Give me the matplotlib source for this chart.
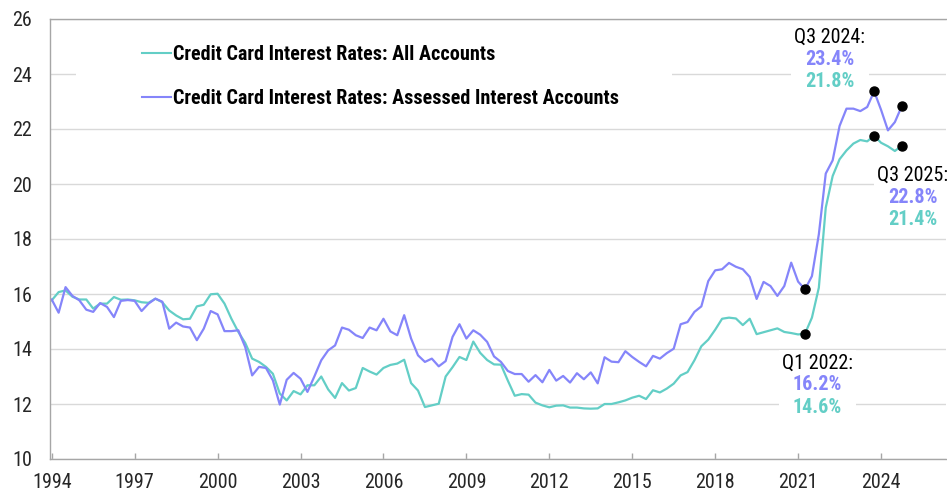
import matplotlib
matplotlib.use('Agg')
import matplotlib.pyplot as plt
import numpy as np
import pandas as pd
from matplotlib import font_manager
from matplotlib.patches import Rectangle
from matplotlib.offsetbox import AnnotationBbox, TextArea, VPacker

available = {f.name for f in font_manager.fontManager.ttflist}
FS = 11.5
chosen = 'Liberation Sans'
for fam, size in [('Liberation Sans Narrow', 13.5), ('Arial Narrow', 13.5),
                  ('Roboto Condensed', 14.5), ('DejaVu Sans Condensed', 12.0)]:
    if fam in available:
        chosen, FS = fam, size
        break
plt.rcParams['font.family'] = [chosen, 'DejaVu Sans']

# ---------------- data (quarterly, Q4 1994 .. Q3 2025) ----------------
quarters = pd.period_range('1994Q4', '2025Q3', freq='Q')

all_accounts = [
    15.77, 16.07, 16.13, 15.90, 15.80, 15.80, 15.47, 15.65, 15.65, 15.89,
    15.79, 15.80, 15.77, 15.70, 15.68, 15.83, 15.70, 15.40, 15.22, 15.08,
    15.10, 15.55, 15.61, 15.99, 16.01, 15.65, 15.10, 14.62, 14.22, 13.65,
    13.53, 13.35, 13.10, 12.38, 12.13, 12.47, 12.35, 12.68, 12.68, 13.00,
    12.53, 12.22, 12.76, 12.49, 12.58, 13.31, 13.18, 13.07, 13.31, 13.42,
    13.47, 13.61, 12.76, 12.49, 11.89, 11.95, 12.01, 13.00, 13.34, 13.71,
    13.60, 14.27, 13.86, 13.60, 13.44, 13.43, 12.85, 12.30, 12.36, 12.34,
    12.05, 11.95, 11.88, 11.94, 11.95, 11.87, 11.87, 11.84, 11.83, 11.84,
    12.00, 12.00, 12.06, 12.13, 12.23, 12.30, 12.18, 12.50, 12.42, 12.56,
    12.74, 13.04, 13.16, 13.59, 14.10, 14.34, 14.70, 15.10, 15.14, 15.11,
    14.87, 15.10, 14.54, 14.61, 14.68, 14.75, 14.62, 14.58, 14.53, 14.56,
    15.14, 16.23, 19.14, 20.29, 20.90, 21.22, 21.47, 21.60, 21.55, 21.76,
    21.50, 21.37, 21.20, 21.39,
]

assessed_interest = [
    15.80, 15.32, 16.25, 15.93, 15.77, 15.43, 15.35, 15.67, 15.53, 15.16,
    15.75, 15.78, 15.75, 15.38, 15.65, 15.83, 15.72, 14.74, 14.96, 14.82,
    14.78, 14.32, 14.74, 15.38, 15.26, 14.65, 14.65, 14.68, 14.07, 13.04,
    13.35, 13.31, 12.86, 11.98, 12.88, 13.13, 12.92, 12.44, 13.00, 13.59,
    13.95, 14.13, 14.78, 14.70, 14.50, 14.40, 14.78, 14.68, 15.10, 14.64,
    14.50, 15.23, 14.38, 13.77, 13.53, 13.65, 13.37, 13.56, 14.44, 14.90,
    14.38, 14.68, 14.52, 14.26, 13.73, 13.53, 13.20, 13.09, 13.09, 12.81,
    13.05, 12.79, 13.24, 12.85, 13.02, 12.78, 13.12, 12.90, 13.15, 12.75,
    13.70, 13.54, 13.52, 13.92, 13.71, 13.53, 13.37, 13.75, 13.65, 13.85,
    14.01, 14.90, 14.98, 15.35, 15.55, 16.47, 16.86, 16.90, 17.13, 16.99,
    16.90, 16.62, 15.82, 16.44, 16.29, 15.93, 16.29, 17.14, 16.45, 16.17,
    16.65, 18.17, 20.38, 20.86, 22.11, 22.74, 22.74, 22.65, 22.80, 23.37,
    22.70, 21.95, 22.25, 22.83,
]

series_names = ['Credit Card Interest Rates: All Accounts',
                'Credit Card Interest Rates: Assessed Interest Accounts']
tick_years = [1994, 1997, 2000, 2003, 2006, 2009, 2012, 2015, 2018, 2021, 2024]
y_ticks = [10, 12, 14, 16, 18, 20, 22, 24, 26]

highlight_quarters = ['2022Q1', '2024Q3', '2025Q3']
highlight_titles = ['Q1 2022:', 'Q3 2024:', 'Q3 2025:']

# ---------------- style ----------------
TEAL = '#63CEC6'
PURPLE = '#8585FA'
GRID = '#D9D9D9'
AXIS = '#A6A6A6'
TXT = '#262626'

fig = plt.figure(figsize=(9.47, 4.91), dpi=100)
ax = fig.add_axes([50/947, 32/491, 896/947, 440/491])

x = np.arange(len(quarters))
q_index = {str(q): i for i, q in enumerate(quarters)}

l1, = ax.plot(x, all_accounts, color=TEAL, lw=1.6, zorder=3)
l2, = ax.plot(x, assessed_interest, color=PURPLE, lw=1.6, zorder=3)

ax.set_ylim(10, 26)
ax.set_xlim(-0.25, 129.4)
ax.set_yticks(y_ticks)
ax.set_yticklabels([str(v) for v in y_ticks])
tick_pos = [q_index[f'{y}Q4'] for y in tick_years]
ax.set_xticks(tick_pos)
ax.set_xticklabels([str(y) for y in tick_years])

ax.grid(axis='y', color=GRID, lw=1.0, zorder=0)
ax.set_axisbelow(True)
ax.spines['right'].set_visible(False)
for s in ['left', 'bottom', 'top']:
    ax.spines[s].set_color(AXIS)
    ax.spines[s].set_linewidth(1.0)
    ax.spines[s].set_zorder(4)
ax.tick_params(axis='x', direction='in', length=4.5, width=1.0, color=AXIS,
               labelsize=FS, labelcolor=TXT, pad=10)
ax.tick_params(axis='y', length=0, labelsize=FS, labelcolor=TXT, pad=13)

# white backing behind the legend (hides the gridline there)
ax.add_patch(Rectangle((0.029, 0.79), 0.665, 0.16, transform=ax.transAxes,
                       fc='white', ec='none', zorder=1))
leg = ax.legend([l1, l2], series_names, loc='upper left',
                bbox_to_anchor=(0.083, 0.983), frameon=False,
                borderpad=0.4, handlelength=1.4, handletextpad=0.12,
                labelspacing=1.27,
                prop={'weight': 'bold', 'size': FS})
leg.set_zorder(2)
for h in leg.legend_handles:
    h.set_linewidth(1.5)
for t in leg.get_texts():
    t.set_color('black')

# highlight dots
for q in highlight_quarters:
    i = q_index[q]
    ax.plot([i, i], [all_accounts[i], assessed_interest[i]], 'o', color='black',
            ms=6.5, zorder=5, ls='none')

# annotation blocks
offsets = [(9, -37), (-32, 23), (8, -37)]
anchor_series = [all_accounts, assessed_interest, all_accounts]
for q, title, off, ser in zip(highlight_quarters, highlight_titles, offsets, anchor_series):
    i = q_index[q]
    box = VPacker(children=[
        TextArea(title, textprops=dict(color='black', size=FS)),
        TextArea(f'{assessed_interest[i]:.1f}%', textprops=dict(color=PURPLE, size=FS, weight='bold')),
        TextArea(f'{all_accounts[i]:.1f}%', textprops=dict(color=TEAL, size=FS, weight='bold')),
    ], align='center', pad=0, sep=2.3)
    ab = AnnotationBbox(box, (i, ser[i]), xybox=off, boxcoords='offset points',
                        frameon=True, pad=0.25, box_alignment=(0.5, 0.5),
                        bboxprops=dict(fc='white', ec='none'), annotation_clip=False)
    ab.set_zorder(2)
    ax.add_artist(ab)

fig.savefig('out.png', dpi=100)
